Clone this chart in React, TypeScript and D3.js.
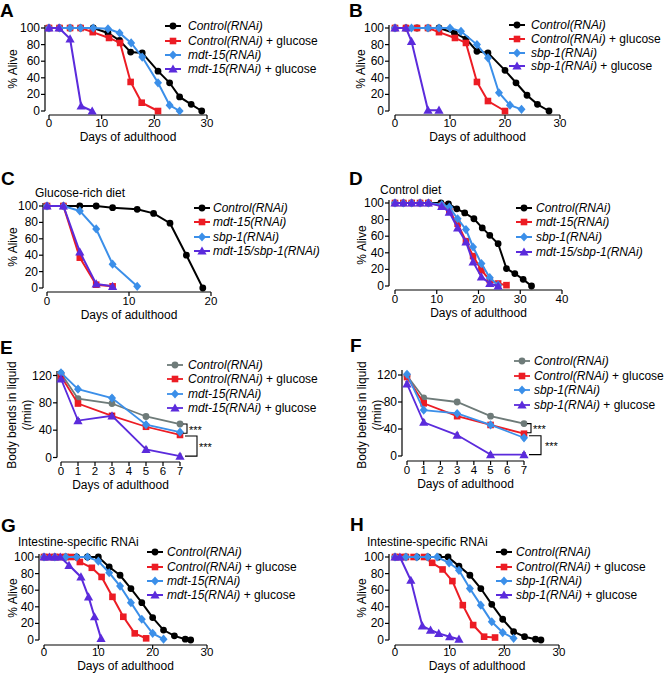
import React from "react";
import * as d3 from "d3";

type Pt = [number, number];

const BLACK = "#000000";
const RED = "#ec1c24";
const BLUE = "#3b8fe9";
const PURPLE = "#5b2bdc";
const GRAY = "#6e7b79";
const FONT = "'Liberation Sans', Arial, Helvetica, sans-serif";

// ---------- Panel A ----------
const aCtrl: Pt[] = [[0,100],[2,100],[4,100],[6,100],[8.4,100],[11.2,94],[13.4,85],[15.5,71],[17.7,70],[20.7,48],[22.9,34],[24.8,17],[27,8],[29,0]];
const aGlu: Pt[] = [[0,100],[2,100],[4,100],[6,100],[8.3,95],[11.4,88],[13.5,82],[15.5,35],[17.6,10],[20.7,0]];
const aMdt: Pt[] = [[0,100],[2,100],[4,100],[6,100],[8.4,100],[11.2,99],[13.4,94],[15.6,82],[17.7,65],[20.7,34],[22.9,7],[24.8,0]];
const aMdtGlu: Pt[] = [[0,100],[1.9,100],[4,87],[6.1,6],[8.2,0]];
const aLegend = ["Control(RNAi)", "Control(RNAi) + glucose", "mdt-15(RNAi)", "mdt-15(RNAi) + glucose"];

// ---------- Panel B ----------
const bCtrl: Pt[] = [[0,100],[2,100],[4,100],[6,100],[8,100],[10.8,94],[12.9,87],[14.9,72],[16.9,70],[20,49],[22,34],[24,19],[25.9,8],[28,0]];
const bGlu: Pt[] = [[0,100],[2,100],[4,100],[6,100],[8,95],[10.9,88],[12.9,82],[14.9,35],[16.9,12],[20,0]];
const bSbp: Pt[] = [[0,100],[3,100],[6,100],[8,100],[10,100],[12,96],[14.9,80],[16.9,64],[18.9,22],[20.9,7],[23,2]];
const bSbpGlu: Pt[] = [[0,100],[2,100],[3,84],[6,1],[8,1]];
const bLegend = ["Control(RNAi)", "Control(RNAi) + glucose", "sbp-1(RNAi)", "sbp-1(RNAi) + glucose"];

// ---------- Panel C ----------
const cCtrl: Pt[] = [[0,100],[2,100],[4,100],[6,100],[8,98],[11,96],[13,91],[15,79],[17,40],[19,0]];
const cMdt: Pt[] = [[0,100],[2,100],[4,37],[6,4],[8,2]];
const cSbp: Pt[] = [[0,100],[2,100],[4,94],[6,72],[8,29],[11,2]];
const cDouble: Pt[] = [[0,100],[2,100],[4,44],[6,5],[8,2]];
const cdLegend = ["Control(RNAi)", "mdt-15(RNAi)", "sbp-1(RNAi)", "mdt-15/sbp-1(RNAi)"];

// ---------- Panel D ----------
const dCtrl: Pt[] = [[0,100],[2,100],[4,100],[6,100],[8,100],[11,100],[12.8,99],[14.8,93],[16.7,88],[18.9,81],[20.9,70],[22.7,61],[24.7,51],[26.7,21],[28.7,15],[30.7,8],[32.7,0]];
const dMdt: Pt[] = [[0,100],[2,100],[4,100],[6,100],[8,100],[11.2,97],[13,90],[15,75],[17,54],[18.7,36],[20.7,19],[22.7,7],[24.7,3],[26.7,1]];
const dSbp: Pt[] = [[0,100],[2,100],[4,100],[6,100],[8,100],[11.2,98],[13,95],[15,81],[17,68],[18.7,47],[20.7,27],[22.7,10],[24.7,1]];
const dDouble: Pt[] = [[0,100],[2,100],[4,100],[6,100],[8,100],[11.2,96],[13,89],[15,70],[17,53],[18.7,29],[20.7,11],[22.7,3],[24.7,0]];

// ---------- Panels E / F (body bends) ----------
const bendDays = [0, 1, 3, 5, 7];
const eCtrl = [123, 86, 79, 60, 49];
const eGlu = [119, 79, 61, 45, 33];
const eMdt = [124, 100, 87, 48, 37];
const eMdtGlu = [115, 54, 61, 12, 2];
const fCtrl = [119, 86, 80, 59, 48];
const fGlu = [117, 78, 59, 46, 33];
const fSbp = [121, 68, 63, 46, 27];
const fSbpGlu = [107, 50, 31, 2, 2];
const bendErr = [3, 3, 3, 3, 3];

// ---------- Panel G ----------
const gCtrl: Pt[] = [[0,100],[2,100],[4,100],[6,100],[8,100],[10,100],[12,88],[14,78],[16,62],[18,45],[20,27],[22,12],[24,5],[26,1],[27,0]];
const gGlu: Pt[] = [[0,100],[1,100],[2,100],[3,100],[4,100],[5,100],[6.6,94],[8.8,87],[10.6,76],[12.6,52],[14.6,28],[16.7,8],[18.8,2]];
const gMdt: Pt[] = [[0,100],[2,100],[4,100],[6,100],[8,100],[10,95],[12,81],[14,65],[16,45],[18,25],[20,8],[22,1]];
const gMdtGlu: Pt[] = [[0,100],[1,100],[2,100],[3,100],[4.6,90],[6.8,76],[8.2,52],[9.3,28],[10.5,2]];

// ---------- Panel H ----------
const hCtrl: Pt[] = [[0,100],[2,100],[4,100],[6,100],[8,100],[9.7,100],[11.7,89],[13.7,78],[15.7,62],[17.7,43],[19.7,25],[21.7,10],[23.7,4],[25.7,1],[26.7,0]];
const hGlu: Pt[] = [[0,100],[1,100],[2,100],[3.4,100],[5.3,100],[6.8,93],[8.7,85],[10.5,71],[12.4,42],[14.3,18],[16.3,4],[18.3,3]];
const hSbp: Pt[] = [[0,100],[2,100],[4,100],[6,100],[7.7,100],[9.9,93],[11.7,84],[13.7,62],[15.7,42],[17.7,22],[19.7,9],[21.7,2]];
const hSbpGlu: Pt[] = [[0,100],[0.9,100],[2.9,72],[5,17],[6.5,12],[8,8],[10,4],[11.7,1]];

const survTicks = [0, 20, 40, 60, 80, 100];
const bendTicks = [0, 40, 80, 120];
const x30Ticks = [0, 10, 20, 30];
const x20Ticks = [0, 10, 20];
const x40Ticks = [0, 10, 20, 30, 40];
const x7Ticks = [0, 1, 2, 3, 4, 5, 6, 7];

type Sym = "circle" | "square" | "diamond" | "triangle";
interface Series { data: Pt[]; color: string; sym: Sym; err?: number[] }

function symPath(s: Sym): string {
  switch (s) {
    case "circle": return "M3.4,0A3.4,3.4 0 1,1 -3.4,0A3.4,3.4 0 1,1 3.4,0Z";
    case "square": return "M-3.3,-3.3H3.3V3.3H-3.3Z";
    case "diamond": return "M0,-4.6L4,0L0,4.6L-4,0Z";
    case "triangle": return "M0,-4.6L4.6,3.6L-4.6,3.6Z";
  }
}

function LegendLabel({ text }: { text: string }) {
  const idx = text.indexOf(" + glucose");
  if (idx < 0) return <tspan fontStyle="italic">{text}</tspan>;
  return (<><tspan fontStyle="italic">{text.slice(0, idx)}</tspan><tspan>{" + glucose"}</tspan></>);
}

interface PanelCfg {
  letter: string; lx: number; ly: number;
  title?: string; tx?: number; ty?: number;
  xd: [number, number]; xr: [number, number];
  yd: [number, number]; yr: [number, number];
  xTicks: number[]; yTicks: number[];
  yAxisX: number; xAxisY: number; yTop: number;
  xLabelY: number; xTitleY: number;
  yTitle: string[]; yTitleX: number[]; yTitleY: number;
  series: Series[]; legend: string[];
  legMx: number; legTx: number; legY: number[];
  lineW: number;
}

function Panel({ c }: { c: PanelCfg }) {
  const x = d3.scaleLinear().domain(c.xd).range(c.xr);
  const y = d3.scaleLinear().domain(c.yd).range(c.yr);
  const line = d3.line<Pt>().x(d => x(d[0])).y(d => y(d[1]));
  const y0 = y(c.yd[0]);
  return (
    <g fontFamily={FONT}>
      <text x={c.lx} y={c.ly} fontSize={19} fontWeight="bold">{c.letter}</text>
      {c.title && <text x={c.tx} y={c.ty} fontSize={12}>{c.title}</text>}
      {/* y axis */}
      <line x1={c.yAxisX} x2={c.yAxisX} y1={y0} y2={c.yTop} stroke="#000" strokeWidth={1.2} />
      {c.yTicks.map(t => (
        <g key={"yt" + t}>
          <line x1={c.yAxisX - 4} x2={c.yAxisX} y1={y(t)} y2={y(t)} stroke="#000" strokeWidth={1.2} />
          <text x={c.yAxisX - 5} y={y(t)} fontSize={12} textAnchor="end" dominantBaseline="central">{t}</text>
        </g>
      ))}
      {/* x axis */}
      <line x1={x(c.xd[0])} x2={x(c.xd[1])} y1={c.xAxisY} y2={c.xAxisY} stroke="#000" strokeWidth={1.2} />
      {c.xTicks.map(t => (
        <g key={"xt" + t}>
          <line x1={x(t)} x2={x(t)} y1={c.xAxisY} y2={c.xAxisY + 4} stroke="#000" strokeWidth={1.2} />
          <text x={x(t)} y={c.xLabelY} fontSize={11.5} textAnchor="middle">{t}</text>
        </g>
      ))}
      <text x={(c.xr[0] + c.xr[1]) / 2} y={c.xTitleY} fontSize={12} textAnchor="middle">Days of adulthood</text>
      {c.yTitle.map((t, i) => (
        <text key={"ytl" + i} transform={`translate(${c.yTitleX[i]},${c.yTitleY}) rotate(-90)`} fontSize={12}
          textAnchor="middle" dominantBaseline="central">{t}</text>
      ))}
      {/* series */}
      {c.series.map((s, i) => (
        <g key={"s" + i}>
          <path d={line(s.data) || ""} fill="none" stroke={s.color} strokeWidth={c.lineW} />
          {s.err && s.data.map((d, j) => (
            <g key={"e" + j} stroke="#000" strokeWidth={1}>
              <line x1={x(d[0])} x2={x(d[0])} y1={y(d[1] - s.err![j])} y2={y(d[1] + s.err![j])} />
              <line x1={x(d[0]) - 1.5} x2={x(d[0]) + 1.5} y1={y(d[1] - s.err![j])} y2={y(d[1] - s.err![j])} />
              <line x1={x(d[0]) - 1.5} x2={x(d[0]) + 1.5} y1={y(d[1] + s.err![j])} y2={y(d[1] + s.err![j])} />
            </g>
          ))}
          {s.data.map((d, j) => (
            <path key={"m" + j} d={symPath(s.sym)} transform={`translate(${x(d[0])},${y(d[1])})`} fill={s.color} />
          ))}
        </g>
      ))}
      {/* legend */}
      {c.legend.map((lab, i) => {
        const s = c.series[i];
        return (
          <g key={"l" + i}>
            <line x1={c.legMx - 8} x2={c.legMx + 8} y1={c.legY[i]} y2={c.legY[i]} stroke={s.color} strokeWidth={c.lineW} />
            <path d={symPath(s.sym)} transform={`translate(${c.legMx},${c.legY[i]})`} fill={s.color} />
            <text x={c.legTx} y={c.legY[i]} fontSize={12} dominantBaseline="central"><LegendLabel text={lab} /></text>
          </g>
        );
      })}
    </g>
  );
}

function toPts(vals: number[]): Pt[] { return bendDays.map((d, i) => [d, vals[i]] as Pt); }

function Bracket({ x0, yA, yB, w, sx, sy }: { x0: number; yA: number; yB: number; w: number; sx: number; sy: number }) {
  return (
    <g>
      <path d={`M${x0},${yA}H${x0 + w}V${yB}H${x0}`} fill="none" stroke="#000" strokeWidth={1.1} />
      <text x={sx} y={sy} fontSize={11} fontFamily={FONT}>***</text>
    </g>
  );
}

export default function App() {
  const survY = [111, 28] as [number, number];
  const A: PanelCfg = {
    letter: "A", lx: 0, ly: 17,
    xd: [0, 30], xr: [49, 207], yd: [0, 100], yr: survY,
    xTicks: x30Ticks, yTicks: survTicks, yAxisX: 45, xAxisY: 115, yTop: 25,
    xLabelY: 127, xTitleY: 141, yTitle: ["% Alive"], yTitleX: [13], yTitleY: 69,
    series: [
      { data: aCtrl, color: BLACK, sym: "circle" },
      { data: aGlu, color: RED, sym: "square" },
      { data: aMdt, color: BLUE, sym: "diamond" },
      { data: aMdtGlu, color: PURPLE, sym: "triangle" },
    ],
    legend: aLegend, legMx: 173, legTx: 188, legY: [26, 41, 55, 69], lineW: 2,
  };
  const B: PanelCfg = {
    letter: "B", lx: 349, ly: 17,
    xd: [0, 30], xr: [395, 560], yd: [0, 100], yr: survY,
    xTicks: x30Ticks, yTicks: survTicks, yAxisX: 389, xAxisY: 115, yTop: 25,
    xLabelY: 127, xTitleY: 141, yTitle: ["% Alive"], yTitleX: [361], yTitleY: 69,
    series: [
      { data: bCtrl, color: BLACK, sym: "circle" },
      { data: bGlu, color: RED, sym: "square" },
      { data: bSbp, color: BLUE, sym: "diamond" },
      { data: bSbpGlu, color: PURPLE, sym: "triangle" },
    ],
    legend: bLegend, legMx: 517, legTx: 531, legY: [25, 39, 53, 66], lineW: 2,
  };
  const C: PanelCfg = {
    letter: "C", lx: 1, ly: 185, title: "Glucose-rich diet", tx: 35, ty: 197,
    xd: [0, 20], xr: [47, 211], yd: [0, 100], yr: [288, 206],
    xTicks: x20Ticks, yTicks: survTicks, yAxisX: 43, xAxisY: 292, yTop: 203,
    xLabelY: 305, xTitleY: 319, yTitle: ["% Alive"], yTitleX: [13], yTitleY: 247,
    series: [
      { data: cCtrl, color: BLACK, sym: "circle" },
      { data: cMdt, color: RED, sym: "square" },
      { data: cSbp, color: BLUE, sym: "diamond" },
      { data: cDouble, color: PURPLE, sym: "triangle" },
    ],
    legend: cdLegend, legMx: 202, legTx: 213, legY: [208, 222, 237, 251], lineW: 2,
  };
  const D: PanelCfg = {
    letter: "D", lx: 349, ly: 185, title: "Control diet", tx: 380, ty: 194,
    xd: [0, 40], xr: [395, 562], yd: [0, 100], yr: [286, 203],
    xTicks: x40Ticks, yTicks: survTicks, yAxisX: 389, xAxisY: 290, yTop: 200,
    xLabelY: 303, xTitleY: 317, yTitle: ["% Alive"], yTitleX: [362], yTitleY: 245,
    series: [
      { data: dCtrl, color: BLACK, sym: "circle" },
      { data: dMdt, color: RED, sym: "square" },
      { data: dSbp, color: BLUE, sym: "diamond" },
      { data: dDouble, color: PURPLE, sym: "triangle" },
    ],
    legend: cdLegend, legMx: 524, legTx: 536, legY: [208, 222, 237, 252], lineW: 2,
  };
  const E: PanelCfg = {
    letter: "E", lx: 0, ly: 354,
    xd: [0, 7], xr: [61, 180], yd: [0, 120], yr: [457.5, 375.5],
    xTicks: x7Ticks, yTicks: bendTicks, yAxisX: 57, xAxisY: 462, yTop: 371,
    xLabelY: 475, xTitleY: 489, yTitle: ["Body bends in liquid", "(/min)"], yTitleX: [12, 27], yTitleY: 415,
    series: [
      { data: toPts(eCtrl), color: GRAY, sym: "circle", err: bendErr },
      { data: toPts(eGlu), color: RED, sym: "square", err: bendErr },
      { data: toPts(eMdt), color: BLUE, sym: "diamond", err: bendErr },
      { data: toPts(eMdtGlu), color: PURPLE, sym: "triangle", err: bendErr },
    ],
    legend: aLegend, legMx: 175, legTx: 188, legY: [365, 379, 394, 408], lineW: 1.8,
  };
  const F: PanelCfg = {
    letter: "F", lx: 350, ly: 352,
    xd: [0, 7], xr: [407, 524], yd: [0, 120], yr: [456, 375],
    xTicks: x7Ticks, yTicks: bendTicks, yAxisX: 402, xAxisY: 461, yTop: 370,
    xLabelY: 474, xTitleY: 488, yTitle: ["Body bends in liquid", "(/min)"], yTitleX: [362, 377], yTitleY: 415,
    series: [
      { data: toPts(fCtrl), color: GRAY, sym: "circle", err: bendErr },
      { data: toPts(fGlu), color: RED, sym: "square", err: bendErr },
      { data: toPts(fSbp), color: BLUE, sym: "diamond", err: bendErr },
      { data: toPts(fSbpGlu), color: PURPLE, sym: "triangle", err: bendErr },
    ],
    legend: bLegend, legMx: 522, legTx: 534, legY: [361, 376, 390, 405], lineW: 1.8,
  };
  const G: PanelCfg = {
    letter: "G", lx: 1, ly: 532, title: "Intestine-specific RNAi", tx: 18, ty: 546,
    xd: [0, 30], xr: [44, 207], yd: [0, 100], yr: [640, 557],
    xTicks: x30Ticks, yTicks: survTicks, yAxisX: 39, xAxisY: 645, yTop: 554,
    xLabelY: 656, xTitleY: 670, yTitle: ["% Alive"], yTitleX: [13], yTitleY: 598,
    series: [
      { data: gCtrl, color: BLACK, sym: "circle" },
      { data: gGlu, color: RED, sym: "square" },
      { data: gMdt, color: BLUE, sym: "diamond" },
      { data: gMdtGlu, color: PURPLE, sym: "triangle" },
    ],
    legend: aLegend, legMx: 155, legTx: 167, legY: [552, 567, 581, 595], lineW: 2,
  };
  const H: PanelCfg = {
    letter: "H", lx: 350, ly: 531, title: "Intestine-specific RNAi", tx: 367, ty: 546,
    xd: [0, 30], xr: [395, 559], yd: [0, 100], yr: [640, 557],
    xTicks: x30Ticks, yTicks: survTicks, yAxisX: 389, xAxisY: 645, yTop: 554,
    xLabelY: 656, xTitleY: 670, yTitle: ["% Alive"], yTitleX: [362], yTitleY: 598,
    series: [
      { data: hCtrl, color: BLACK, sym: "circle" },
      { data: hGlu, color: RED, sym: "square" },
      { data: hSbp, color: BLUE, sym: "diamond" },
      { data: hSbpGlu, color: PURPLE, sym: "triangle" },
    ],
    legend: bLegend, legMx: 504, legTx: 516, legY: [552, 567, 581, 595], lineW: 2,
  };

  const eY = d3.scaleLinear().domain([0, 120]).range([457.5, 375.5]);
  const fY = d3.scaleLinear().domain([0, 120]).range([456, 375]);

  return (
    <svg width={668} height={674} style={{ position: "absolute", left: 0, top: 0, background: "#fff" }}>
      <rect width={668} height={674} fill="#fff" />
      {[A, B, C, D, E, F, G, H].map((c, i) => <Panel key={i} c={c} />)}
      <Bracket x0={183} yA={eY(eCtrl[4])} yB={eY(eMdt[4]) + 1} w={4} sx={189} sy={eY(42) + 5} />
      <Bracket x0={185} yA={eY(eGlu[4]) + 1} yB={eY(eMdtGlu[4])} w={12} sx={199} sy={eY(17) + 5} />
      <Bracket x0={527} yA={fY(fCtrl[4])} yB={fY(fGlu[4]) - 1} w={4} sx={533} sy={fY(41) + 5} />
      <Bracket x0={529} yA={fY(fGlu[4]) + 2} yB={fY(fSbpGlu[4])} w={12} sx={545} sy={fY(17) + 5} />
    </svg>
  );
}
